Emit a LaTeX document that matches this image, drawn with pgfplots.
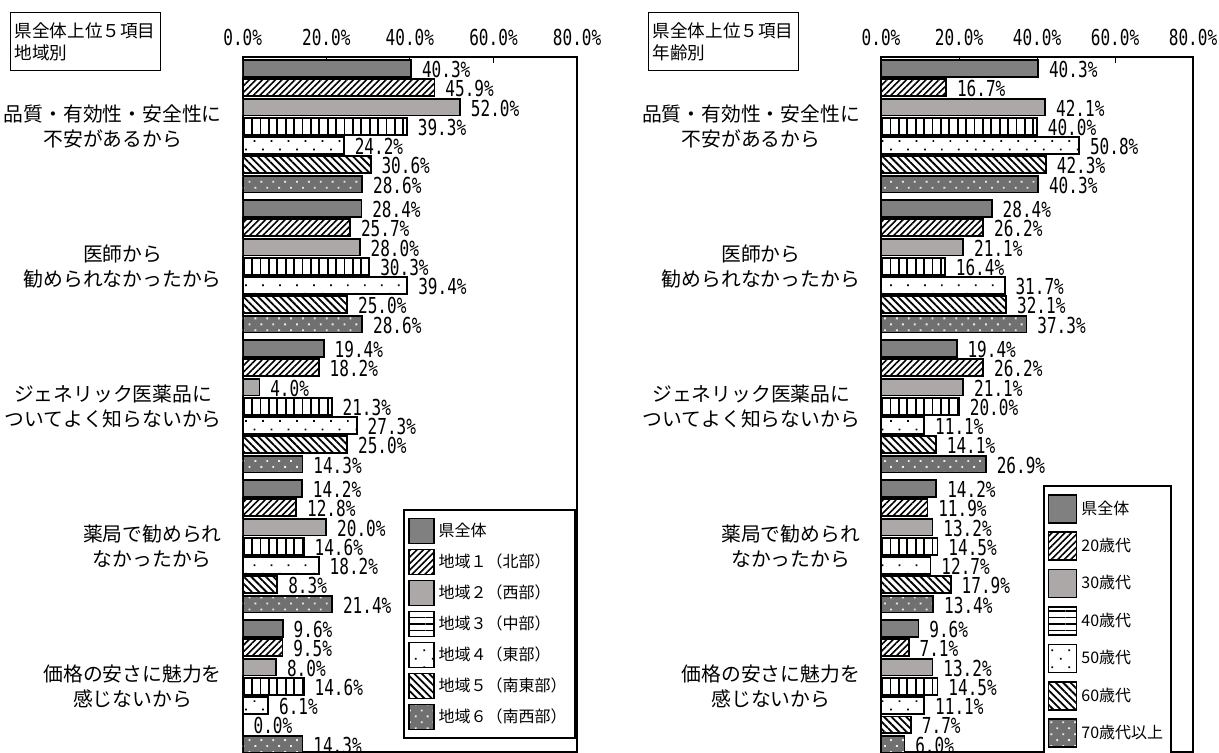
\documentclass[border=0pt]{standalone}
\usepackage{fontspec}
\setmainfont{Noto Sans CJK JP}
\newfontfamily\numfont[FakeStretch=0.73]{DejaVu Sans Mono}
\usepackage{pgfplots}
\usepackage{pgfplotstable}
\pgfplotsset{compat=1.18}
\usetikzlibrary{patterns.meta}

\definecolor{allpref}{RGB}{128,128,128}
\definecolor{lightbar}{RGB}{172,168,168}
\definecolor{darkdot}{RGB}{112,112,112}

% g = item (0 = top), s1 = prefecture total, s2..s7 = groups
\pgfplotstableread{
g  s1   s2   s3   s4   s5   s6   s7
0  40.3 45.9 52.0 39.3 24.2 30.6 28.6
1  28.4 25.7 28.0 30.3 39.4 25.0 28.6
2  19.4 18.2 4.0  21.3 27.3 25.0 14.3
3  14.2 12.8 20.0 14.6 18.2 8.3  21.4
4  9.6  9.5  8.0  14.6 6.1  0.0  14.3
}\regiondata

\pgfplotstableread{
g  s1   s2   s3   s4   s5   s6   s7
0  40.3 16.7 42.1 40.0 50.8 42.3 40.3
1  28.4 26.2 21.1 16.4 31.7 32.1 37.3
2  19.4 26.2 21.1 20.0 11.1 14.1 26.9
3  14.2 11.9 13.2 14.5 12.7 17.9 13.4
4  9.6  7.1  13.2 14.5 11.1 7.7  6.0
}\agedata

\newcommand{\valfont}{\fontsize{11pt}{11pt}\numfont}

\tikzset{
  b1/.style={fill=allpref},
  b2/.style={pattern={Lines[angle=45,distance=2.3pt,line width=0.8pt]}},
  b3/.style={fill=lightbar},
  b4/.style={pattern={Lines[angle=90,distance=4.2pt,line width=0.9pt]}},
  b4leg/.style={pattern={Lines[angle=0,distance=3.2pt,line width=0.8pt]}},
  b5/.style={pattern={Dots[distance=6pt,angle=45,radius=0.6pt]}},
  b6/.style={pattern={Lines[angle=-45,distance=2.6pt,line width=0.9pt]}},
  b7/.style={fill=darkdot, postaction={pattern={Dots[distance=4.2pt,angle=45,radius=0.65pt]}, pattern color=white!85!gray}},
}

\pgfplotsset{
  panel/.style={
    scale only axis, anchor=north west,
    height=347.5pt,
    xbar, y dir=reverse,
    xmin=0, xmax=80, ymin=-0.495, ymax=4.469,
    bar width=0.121,
    point meta=x,
    axis line style={line width=0.9pt},
    xtick={0,20,40,60,80}, xtick pos=upper, xticklabel pos=upper,
    xtick style={black, line width=0.5pt}, major tick length=3pt,
    xticklabel={\pgfmathprintnumber[fixed,fixed zerofill,precision=1,assume math mode=true]{\tick}\%},
    x tick label style={font=\valfont, yshift=2pt},
    ytick={0,1,2,3,4}, ytick style={draw=none},
    yticklabels={{品質・有効性・安全性に\\不安があるから},{医師から\\勧められなかったから},{ジェネリック医薬品に\\ついてよく知らないから},{薬局で勧められ\\なかったから},{価格の安さに魅力を\\感じないから}},
    y tick label style={align=center, font=\fontsize{9.9pt}{12.5pt}\selectfont, xshift=-4pt},
    nodes near coords={\pgfmathprintnumber[fixed,fixed zerofill,precision=1,assume math mode=true]{\pgfplotspointmeta}\%},
    nodes near coords style={font=\valfont, anchor=west, xshift=4pt, yshift=-0.5pt, inner sep=1pt},
    every axis plot/.append style={draw=black, line width=0.9pt},
    legend cell align=left,
    legend style={anchor=north west, draw=black, line width=0.9pt, font=\fontsize{8pt}{10pt}\selectfont, inner xsep=2pt, inner ysep=4pt},
  }
}

\begin{document}
\begin{tikzpicture}
\useasboundingbox (0pt,0pt) rectangle (609.5pt,-376pt);

\node[draw, line width=0.6pt, anchor=north west, minimum width=75pt, minimum height=29pt,
      text width=71pt, align=left, inner sep=2pt, font=\fontsize{8.8pt}{11pt}\selectfont]
      at (5pt,-6pt) {県全体上位５項目\\地域別};
\node[draw, line width=0.6pt, anchor=north west, minimum width=75pt, minimum height=29pt,
      text width=71pt, align=left, inner sep=2pt, font=\fontsize{8.8pt}{11pt}\selectfont]
      at (324pt,-6pt) {県全体上位５項目\\年齢別};

% by region
\begin{axis}[panel, at={(121.35pt,-28.5pt)}, width=167.2pt,
  legend style={at={(axis description cs:0.48,0.35)}, row sep=2.2pt},
  legend image code/.code={\draw[#1, draw=black, line width=0.8pt] (0pt,-6.25pt) rectangle (12.5pt,6.25pt);},
]
  \addlegendimage{b1}
  \addlegendimage{b2}
  \addlegendimage{b3}
  \addlegendimage{b4leg}
  \addlegendimage{b5}
  \addlegendimage{b6}
  \addlegendimage{b7}
  \addplot[b1, forget plot, bar shift=-0.4125] table[x=s1, y=g] {\regiondata};
  \addplot[b2, forget plot, bar shift=-0.275]  table[x=s2, y=g] {\regiondata};
  \addplot[b3, forget plot, bar shift=-0.1375] table[x=s3, y=g] {\regiondata};
  \addplot[b4, forget plot, bar shift=0]       table[x=s4, y=g] {\regiondata};
  \addplot[b5, forget plot, bar shift=0.1375]  table[x=s5, y=g] {\regiondata};
  \addplot[b6, forget plot, bar shift=0.275]   table[x=s6, y=g] {\regiondata};
  \addplot[b7, forget plot, bar shift=0.4125]  table[x=s7, y=g] {\regiondata};
  \legend{県全体, 地域１（北部）, 地域２（西部）, 地域３（中部）, 地域４（東部）, 地域５（南東部）, 地域６（南西部）}
\end{axis}

% by age
\begin{axis}[panel, at={(440.5pt,-28.5pt)}, width=156pt,
  legend style={at={(axis description cs:0.519,0.384)}, row sep=3.9pt},
  legend image code/.code={\draw[#1, draw=black, line width=0.8pt] (0pt,-7pt) rectangle (14pt,7pt);},
]
  \addlegendimage{b1}
  \addlegendimage{b2}
  \addlegendimage{b3}
  \addlegendimage{b4leg}
  \addlegendimage{b5}
  \addlegendimage{b6}
  \addlegendimage{b7}
  \addplot[b1, forget plot, bar shift=-0.4125] table[x=s1, y=g] {\agedata};
  \addplot[b2, forget plot, bar shift=-0.275]  table[x=s2, y=g] {\agedata};
  \addplot[b3, forget plot, bar shift=-0.1375] table[x=s3, y=g] {\agedata};
  \addplot[b4, forget plot, bar shift=0]       table[x=s4, y=g] {\agedata};
  \addplot[b5, forget plot, bar shift=0.1375]  table[x=s5, y=g] {\agedata};
  \addplot[b6, forget plot, bar shift=0.275]   table[x=s6, y=g] {\agedata};
  \addplot[b7, forget plot, bar shift=0.4125]  table[x=s7, y=g] {\agedata};
  \legend{県全体, 20歳代, 30歳代, 40歳代, 50歳代, 60歳代, 70歳代以上}
\end{axis}
\end{tikzpicture}
\end{document}
